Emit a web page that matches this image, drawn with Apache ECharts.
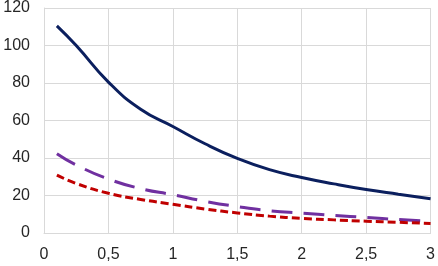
<!DOCTYPE html>
<html><head><meta charset="utf-8">
<script src="https://cdn.jsdelivr.net/npm/echarts@6/dist/echarts.min.js"></script>
<style>html,body{margin:0;padding:0;background:#fff}#c{width:438px;height:266px}</style>
</head><body><div id="c"></div>
<script>
var xValues = [0.1, 0.25, 0.5, 0.75, 1, 1.25, 1.5, 1.75, 2, 2.25, 2.5, 2.75, 3];
var solidSeries = [110.5, 100, 80.5, 66, 56.8, 47.6, 39.8, 33.8, 29.6, 26.2, 23.2, 20.7, 18.3];
var longDashSeries = [42.3, 36.3, 28.8, 23.7, 20.4, 16.9, 14.1, 11.9, 10.6, 9.4, 8.3, 7.2, 6.3];
var shortDashSeries = [30.9, 26.4, 21.2, 17.9, 15.3, 12.8, 10.7, 9.0, 7.8, 7.0, 6.3, 5.7, 5.1];
var xTicks = {min: 0, max: 3, interval: 0.5};
var yTicks = {min: 0, max: 120, interval: 20};

function pairs(ys){ return xValues.map(function(x,i){ return [x, ys[i]]; }); }
var font = 'Liberation Sans';
var chart = echarts.init(document.getElementById('c'), null, {renderer:'canvas'});
chart.setOption({
  animation: false,
  grid: {left: 44, right: 3, top: 5, bottom: 33},
  xAxis: {
    type: 'value', min: xTicks.min, max: xTicks.max, interval: xTicks.interval,
    axisLine: {show: true, lineStyle: {color: '#d9d9d9', width: 1}},
    axisTick: {show: false},
    splitLine: {show: true, lineStyle: {color: '#d9d9d9', width: 1}},
    axisLabel: {color: '#262626', fontFamily: font, fontSize: 16, margin: 14,
      formatter: function(v){ return String(v).replace('.', ','); }}
  },
  yAxis: {
    type: 'value', min: yTicks.min, max: yTicks.max, interval: yTicks.interval,
    axisLine: {show: true, lineStyle: {color: '#d9d9d9', width: 1}},
    axisTick: {show: false},
    splitLine: {show: true, lineStyle: {color: '#d9d9d9', width: 1}},
    axisLabel: {color: '#262626', fontFamily: font, fontSize: 16, margin: 14}
  },
  series: [
    {type: 'line', data: pairs(solidSeries), smooth: 0.5, showSymbol: false,
     lineStyle: {color: '#0b1f5e', width: 3}},
    {type: 'line', data: pairs(longDashSeries), smooth: 0.5, showSymbol: false,
     lineStyle: {color: '#7030a0', width: 3, type: [21, 11]}},
    {type: 'line', data: pairs(shortDashSeries), smooth: 0.5, showSymbol: false,
     lineStyle: {color: '#c00000', width: 3, type: [8, 4]}}
  ]
});
</script></body></html>
